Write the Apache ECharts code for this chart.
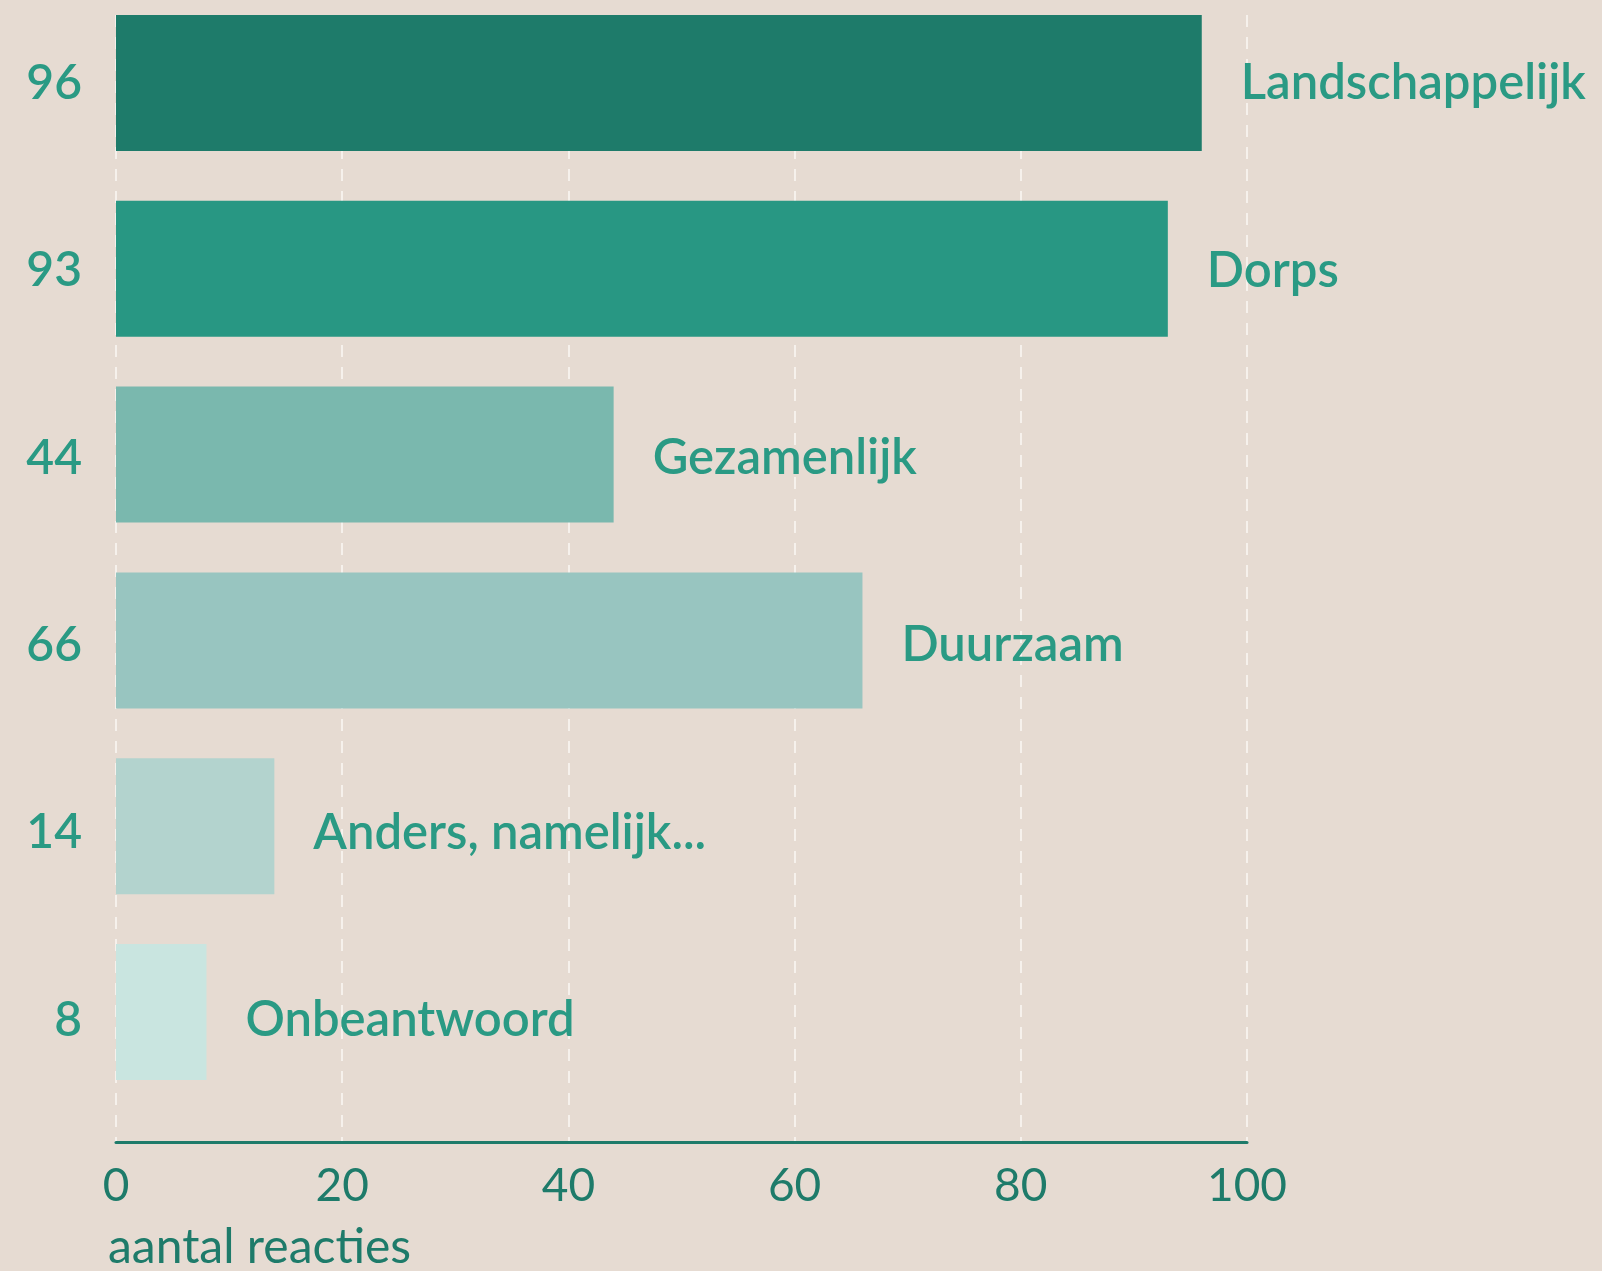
<!DOCTYPE html>
<html>
<head>
<meta charset="utf-8">
<script src="https://cdn.jsdelivr.net/npm/echarts@6/dist/echarts.min.js"></script>
<style>
  html, body { margin: 0; padding: 0; background: #e6dbd2; }
  #chart { width: 1602px; height: 1271px; }
</style>
</head>
<body>
<div id="chart"></div>
<script>
// antwoorden (van boven naar beneden) en aantal reacties
const categories = ["Landschappelijk", "Dorps", "Gezamenlijk", "Duurzaam", "Anders, namelijk...", "Onbeantwoord"];
const counts = [96, 93, 44, 66, 14, 8];
const xTicks = [0, 20, 40, 60, 80, 100];

// kleuren per balk
const barColors = ["#1e7b6a", "#289783", "#7ab8ae", "#98c5c0", "#b3d3ce", "#c9e5e0"];

const font = "Lato";
const labelColor = "#2a9a84";
const axisColor = "#1e7b6a";

const xMin = xTicks[0];
const xMax = xTicks[xTicks.length - 1];

let chart = echarts.init(document.getElementById("chart"));

chart.setOption({
  backgroundColor: "#e6dbd2",
  animation: false,
  title: {
    text: "aantal reacties",
    left: 103,
    top: 1219,
    textStyle: { fontFamily: font, fontSize: 48, fontWeight: "normal", color: axisColor }
  },
  grid: [
    // balken
    { left: 116, right: 355, top: -10, height: 1115, outerBoundsMode: "none" },
    // x-as en rasterlijnen
    { left: 116, right: 355, top: 15, bottom: 129, outerBoundsMode: "none" },
    // labels (staan iets ruimer dan de balken)
    { left: 116, right: 355, top: -10, height: 1124, outerBoundsMode: "none" }
  ],
  xAxis: [
    { gridIndex: 0, type: "value", min: xMin, max: xMax, interval: 20, show: false },
    {
      gridIndex: 1,
      type: "value",
      min: xMin,
      max: xMax,
      interval: 20,
      axisLine: { show: true, lineStyle: { color: axisColor, width: 3 } },
      axisTick: { show: false },
      axisLabel: {
        margin: 21,
        fontFamily: font,
        fontSize: 46,
        color: axisColor
      },
      splitLine: {
        show: true,
        lineStyle: { color: "#f6f1ec", width: 2, type: [12, 10] }
      }
    },
    { gridIndex: 2, type: "value", min: xMin, max: xMax, interval: 20, show: false }
  ],
  yAxis: [
    { gridIndex: 0, type: "category", inverse: true, data: categories, show: false },
    { gridIndex: 1, type: "value", show: false },
    {
      gridIndex: 2,
      type: "category",
      inverse: true,
      data: categories,
      axisLine: { show: false },
      axisTick: { show: false },
      axisLabel: {
        margin: 34,
        fontFamily: font,
        fontSize: 48,
        fontWeight: 600,
        color: labelColor,
        formatter: function(value, idx) {
          return String(counts[idx]);
        }
      }
    }
  ],
  series: [
    {
      type: "bar",
      xAxisIndex: 0,
      yAxisIndex: 0,
      barWidth: 136,
      data: counts.map(function(v, i) {
        return { value: v, itemStyle: { color: barColors[i] } };
      })
    },
    {
      // alleen de namen rechts van de balken
      type: "bar",
      xAxisIndex: 2,
      yAxisIndex: 2,
      barWidth: 136,
      silent: true,
      itemStyle: { color: "rgba(0,0,0,0)" },
      data: counts,
      label: {
        show: true,
        position: "right",
        distance: 39,
        formatter: "{b}",
        fontFamily: font,
        fontSize: 49,
        fontWeight: 600,
        color: labelColor
      }
    }
  ]
});
</script>
</body>
</html>
